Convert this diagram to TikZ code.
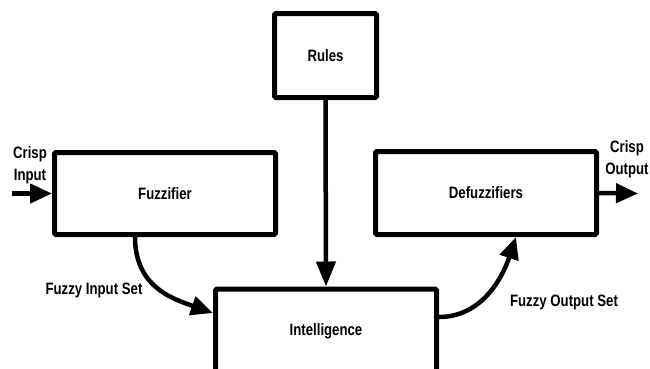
\documentclass[tikz,border=0pt]{standalone}
\usepackage{fontspec}
\setmainfont{Liberation Sans}[FakeStretch=0.8]
\usetikzlibrary{arrows.meta}
\begin{document}
\begin{tikzpicture}[x=1pt,y=-1pt,
  blk/.style={draw,line width=5pt,rounded corners=1.5pt,fill=white,inner sep=0pt,
    font=\fontsize{16.5}{20}\selectfont\bfseries},
  lbl/.style={inner sep=0pt,align=center,font=\fontsize{16.5}{22}\selectfont\bfseries},
  arr/.style={line width=4.5pt,-{Triangle[length=22pt,width=19pt]}}]
\clip (0,0) rectangle (650,368);
\useasboundingbox (0,0) rectangle (650,368);
\node[blk,minimum width=102pt,minimum height=84pt] (rules) at (325.5,55.5) {Rules};
\node[blk,minimum width=221pt,minimum height=82pt] (fuzz) at (165,193.5) {Fuzzifier};
\node[blk,minimum width=221pt,minimum height=83pt] (defuzz) at (486,193) {Defuzzifiers};
\node[blk,minimum width=221pt,minimum height=84pt] (intel) at (326,331) {Intelligence};
\node[lbl] (cin) at (30,165) {Crisp\\Input};
\node[lbl] (cout) at (627,159) {Crisp\\Output};
\node[lbl] (fin) at (94,290) {Fuzzy Input Set};
\node[lbl] (fout) at (564,302) {Fuzzy Output Set};
\coordinate (inS) at (12,193.5);
\coordinate (outE) at (638,193.5);
\draw[arr] (inS) -- (fuzz.west);
\draw[arr] (defuzz.east) -- (outE);
\draw[arr,-{Triangle[length=25pt,width=19pt]}] (rules.south) -- (intel.north);
\draw[arr] ([xshift=-30pt]fuzz.south) .. controls +(0,50) and +(-40,-14) .. ([yshift=18pt]intel.west);
\draw[arr] ([yshift=14pt]intel.east) .. controls +(42,0) and +(-14,42) .. ([xshift=30pt]defuzz.south);
\end{tikzpicture}
\end{document}
